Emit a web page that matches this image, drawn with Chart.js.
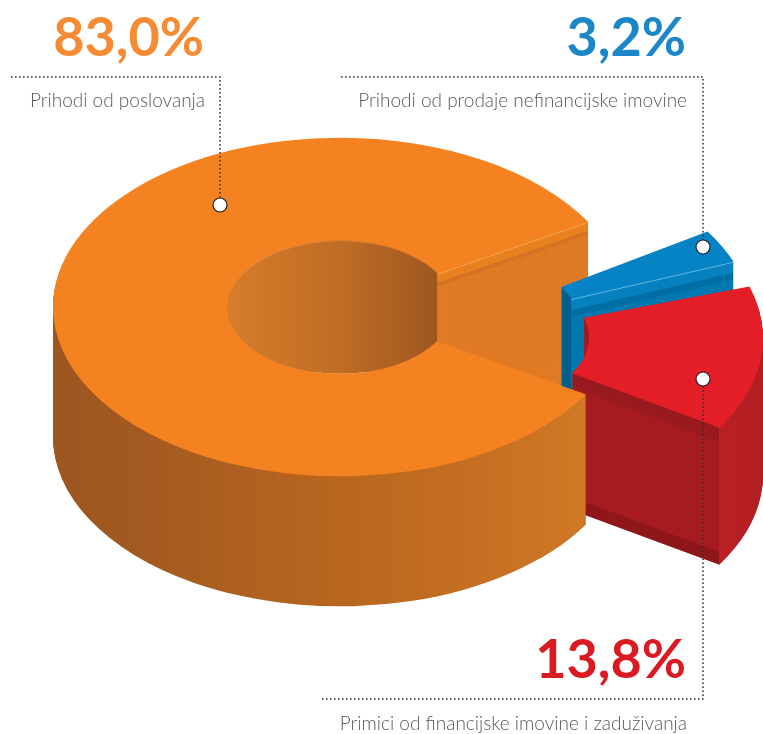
<!DOCTYPE html>
<html>
<head>
<meta charset="utf-8">
<style>
html, body { margin: 0; padding: 0; background: #fff; }
canvas { display: block; }
</style>
<script src="https://cdn.jsdelivr.net/npm/chart.js@4"></script>
</head>
<body>
<canvas id="ring" width="763" height="734"></canvas>
<script>
const categories = ["Prihodi od poslovanja", "Prihodi od prodaje nefinancijske imovine", "Primici od financijske imovine i zaduživanja"]
const shares = [83.0, 3.2, 13.8]
const shareLabels = ["83,0%", "3,2%", "13,8%"]
const topColors = ["#f58220", "#0583c4", "#e31e26"]

// look of the 3d ring
const FLAT = 0.59
const DEPTH = [130, 130, 137]
const SHIFT_X = [0, 126, 136]
const SHIFT_Y = [0, 16, 31]
const TURN = [0, -2.5 * Math.PI / 180, 1 * Math.PI / 180]

function hGrad(ctx, stops, dx) {
    const x0 = stops[0][0] - dx
    const x1 = stops[stops.length - 1][0] - dx
    const g = ctx.createLinearGradient(x0, 0, x1, 0)
    stops.forEach(s => g.addColorStop((s[0] - dx - x0) / (x1 - x0), s[1]))
    return g
}

// one flat copy of a slice, pushed down by d
function paintLayer(ctx, arc, i, d, fill) {
    const copy = Object.create(arc)
    copy.options = Object.assign({}, arc.options, { backgroundColor: fill, borderWidth: 0 })
    copy.startAngle = arc.startAngle + TURN[i]
    copy.endAngle = arc.endAngle + TURN[i]
    ctx.save()
    ctx.translate(SHIFT_X[i], SHIFT_Y[i] + d)
    ctx.translate(arc.x, arc.y)
    ctx.scale(1, FLAT)
    ctx.translate(-arc.x, -arc.y)
    copy.draw(ctx)
    ctx.restore()
}

function stack(ctx, arc, i, fillFor) {
    for (let d = DEPTH[i]; d >= 1; d--) {
        paintLayer(ctx, arc, i, d, fillFor(d))
    }
}

function drawOrange(ctx, arc) {
    const wall = hGrad(ctx, [[53, "#9c5620"], [160, "#a55b20"], [300, "#b4641f"], [450, "#c36d22"], [600, "#d17a26"]], 0)
    stack(ctx, arc, 0, () => wall)

    // far wall of the hole
    const holeRim = hGrad(ctx, [[227, "#f09a50"], [447, "#b86a2c"]], 0)
    const hole = hGrad(ctx, [[227, "#d67d2a"], [340, "#bf6c25"], [447, "#9b5520"]], 0)
    ctx.save()
    ctx.beginPath()
    ctx.ellipse(arc.x, arc.y, arc.innerRadius, arc.innerRadius * FLAT, 0, 0, Math.PI * 2)
    ctx.clip()
    ctx.fillStyle = hole
    ctx.fillRect(arc.x - arc.innerRadius, arc.y - arc.innerRadius, arc.innerRadius * 2, arc.innerRadius * 2)
    stack(ctx, arc, 0, d => d <= 1 ? holeRim : hole)
    ctx.restore()

    // cut face at the upper end of the slice, runs on behind the front part
    const a = arc.endAngle
    const ix = arc.x + arc.innerRadius * Math.cos(a)
    const iy = arc.y + arc.innerRadius * Math.sin(a) * FLAT
    const ox = arc.x + arc.outerRadius * Math.cos(a)
    const oy = arc.y + arc.outerRadius * Math.sin(a) * FLAT
    const reach = DEPTH[0] + 40
    ctx.save()
    ctx.beginPath()
    ctx.moveTo(ix, iy)
    ctx.lineTo(ox, oy)
    ctx.lineTo(ox, oy + reach)
    ctx.lineTo(ix, iy + reach)
    ctx.closePath()
    ctx.clip()
    ctx.fillStyle = "#e07a25"
    ctx.fillRect(ix, oy, ox - ix, iy + reach - oy)
    stack(ctx, arc, 0, d => d <= 1 ? "#f8aa64" : d <= 9 ? "#e8811f" : d <= 13 ? "#d67324" : "#e07a25")
    ctx.restore()

    paintLayer(ctx, arc, 0, 0, topColors[0])
}

function drawBlue(ctx, arc) {
    const cornerX = arc.x + arc.innerRadius * Math.cos(arc.endAngle + TURN[1])
    const band = c => hGrad(ctx, [[cornerX - 200, "#005f8c"], [cornerX, "#005f8c"], [cornerX, c], [cornerX + 300, c]], 0)
    const rim = band("#62b6e2"), upper = band("#0581bf"), dark = band("#006ea3"), face = band("#0078b0")
    stack(ctx, arc, 1, d => d <= 1 ? rim : d <= 11 ? upper : d <= 18 ? dark : face)
    paintLayer(ctx, arc, 1, 0, topColors[1])
}

function drawRed(ctx, arc) {
    const cornerX = arc.x + arc.outerRadius * Math.cos(arc.endAngle + TURN[2])
    const band = c => hGrad(ctx, [[cornerX - 300, c], [cornerX, c], [cornerX, "#bb2025"], [cornerX + 60, "#ae1e22"]], 0)
    const upper = band("#991a1e"), face = band("#a51b20"), lower = band("#8f171b")
    stack(ctx, arc, 2, d => d <= 14 ? upper : d >= DEPTH[2] - 12 ? lower : face)
    paintLayer(ctx, arc, 2, 0, topColors[2])
}

const ring3d = {
    id: "ring3d",
    beforeDatasetsDraw(chart) {
        const ctx = chart.ctx
        const arcs = chart.getDatasetMeta(0).data

        drawOrange(ctx, arcs[0])
        drawBlue(ctx, arcs[1])
        drawRed(ctx, arcs[2])

        // front of the orange slice sits in front of the red one,
        // only the part near the gap needs painting again
        const arc = arcs[0]
        const a = arc.startAngle
        const ox = arc.x + arc.outerRadius * Math.cos(a)
        const oy = arc.y + arc.outerRadius * Math.sin(a) * FLAT
        const slope = Math.tan(a) * FLAT
        const left = 540
        const right = Math.ceil(ox) + 1
        ctx.save()
        ctx.beginPath()
        ctx.moveTo(left, oy + (left - ox) * slope)
        ctx.lineTo(right, oy + (right - ox) * slope)
        ctx.lineTo(right, 734)
        ctx.lineTo(left, 734)
        ctx.closePath()
        ctx.clip()
        const wall = hGrad(ctx, [[53, "#9c5620"], [160, "#a55b20"], [300, "#b4641f"], [450, "#c36d22"], [600, "#d17a26"]], 0)
        stack(ctx, arc, 0, () => wall)
        paintLayer(ctx, arc, 0, 0, topColors[0])
        ctx.restore()
        return false
    },
    afterDraw(chart) {
        const ctx = chart.ctx
        ctx.save()

        // leaders
        ctx.strokeStyle = "#333"
        ctx.lineWidth = 1.6
        ctx.setLineDash([1.6, 2.4])
        const leaders = [
            [[11, 77], [220, 77], [220, 205]],
            [[341, 77], [703, 77], [703, 247]],
            [[322, 699], [703, 699], [703, 379]]
        ]
        leaders.forEach(l => {
            ctx.beginPath()
            ctx.moveTo(l[0][0], l[0][1])
            ctx.lineTo(l[1][0], l[1][1])
            ctx.lineTo(l[2][0], l[2][1])
            ctx.stroke()
        })
        ctx.setLineDash([])
        ctx.fillStyle = "#fff"
        ctx.strokeStyle = "#222"
        ctx.lineWidth = 1.2
        leaders.forEach(l => {
            ctx.beginPath()
            ctx.arc(l[2][0], l[2][1], 7, 0, Math.PI * 2)
            ctx.fill()
            ctx.stroke()
        })

        // big numbers
        ctx.textAlign = "right"
        ctx.textBaseline = "alphabetic"
        ctx.font = "bold 54px Lato"
        ctx.fillStyle = "#f68b33"
        ctx.fillText(shareLabels[0], 204, 56)
        ctx.fillStyle = "#1b87c9"
        ctx.fillText(shareLabels[1], 686, 56)
        ctx.fillStyle = "#da1a22"
        ctx.fillText(shareLabels[2], 686, 678)

        // names
        ctx.font = "300 19px Lato"
        ctx.fillStyle = "#58595b"
        ctx.fillText(categories[0], 205, 107)
        ctx.fillText(categories[1], 687, 107)
        ctx.fillText(categories[2], 687, 730)
        ctx.restore()
    }
}

new Chart(document.getElementById("ring"), {
    type: "doughnut",
    data: {
        labels: categories,
        datasets: [{
            data: shares,
            backgroundColor: topColors,
            borderWidth: 0
        }]
    },
    options: {
        responsive: false,
        animation: false,
        rotation: 121,
        cutout: "39.4%",
        layout: { padding: { left: 53, right: 136, top: 20, bottom: 140 } },
        plugins: {
            legend: { display: false },
            tooltip: { enabled: false }
        }
    },
    plugins: [ring3d]
})
</script>
</body>
</html>
